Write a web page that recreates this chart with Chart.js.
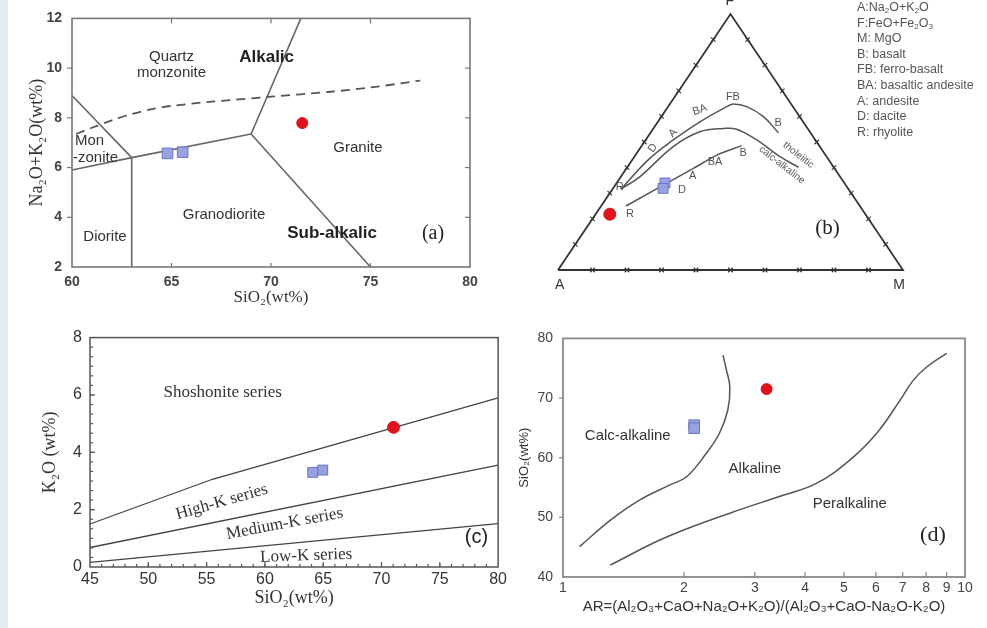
<!DOCTYPE html>
<html>
<head>
<meta charset="utf-8">
<title>Granite geochemistry diagrams</title>
<script src="https://cdn.jsdelivr.net/npm/chart.js@4.4.1/dist/chart.umd.min.js"></script>
<style>
  body { margin: 0; width: 987px; height: 628px; background: #fff; position: relative; overflow: hidden;
         font-family: 'Liberation Sans', Arial, sans-serif; }
  .strip { position: absolute; left: 0; top: 0; width: 8px; height: 628px; background: #e5e9f5; }
  .panel { position: absolute; }
  #afmKey { position: absolute; left: 857px; top: 0; font-size: 12.5px; line-height: 15.6px; color: #555; white-space: nowrap; }
  #afmKey sub { font-size: 8px; vertical-align: -2px; line-height: 0; }
</style>
</head>
<body>
<div class="strip"></div>
<div class="panel" style="left:0;top:0;width:490px;height:310px"><canvas id="tas"></canvas></div>
<div class="panel" style="left:540px;top:0;width:447px;height:300px"><canvas id="afm"></canvas></div>
<div id="afmKey">
  A:Na<sub>2</sub>O+K<sub>2</sub>O<br>
  F:FeO+Fe<sub>2</sub>O<sub>3</sub><br>
  M: MgO<br>
  B: basalt<br>
  FB: ferro-basalt<br>
  BA: basaltic andesite<br>
  A: andesite<br>
  D: dacite<br>
  R: rhyolite
</div>
<div class="panel" style="left:0;top:320px;width:510px;height:308px"><canvas id="k2o"></canvas></div>
<div class="panel" style="left:500px;top:320px;width:487px;height:308px"><canvas id="ar"></canvas></div>

<script>
// (a) total alkali vs silica, plutonic fields
const tasFieldLines = [
  [[60, 8.9], [63, 6.4]],
  [[60, 5.9], [63, 6.4], [69, 7.35]],
  [[63, 6.4], [63, 2]],
  [[69, 7.35], [71.5, 12]],
  [[69, 7.35], [75, 2]]
];
const tasAlkalicDivide = [[60.2, 7.35], [61, 7.6], [62, 7.9], [63, 8.15], [64, 8.35], [65, 8.48],
  [67, 8.65], [70, 8.85], [73, 9.05], [75, 9.22], [77.5, 9.5]];
const tasSamples = [[64.8, 6.57], [65.56, 6.62]];
const tasGranite = [[71.57, 7.79]];
const tasXTicks = [60, 65, 70, 75, 80];
const tasYTicks = [2, 4, 6, 8, 10, 12];

// (b) AFM ternary, points as [A, F, M] in percent
const afmOutline = [[100, 0, 0], [0, 0, 100], [0, 100, 0], [100, 0, 0]];
const afmTholeiiticTrend = [[66.0, 31.6, 2.4], [51.6, 43.6, 4.8], [41.2, 50.8, 8.0], [29.9, 57.9, 12.2],
  [19.2, 63.8, 17.0], [16.8, 64.8, 18.4], [13.4, 63.8, 22.8], [10.5, 59.9, 29.6], [9.3, 53.6, 37.1]];
const afmDivide = [[66.0, 31.6, 2.4], [58.1, 36.4, 5.5], [42.5, 48.2, 9.3], [31.9, 54.0, 14.1],
  [24.4, 55.3, 20.3], [20.7, 55.0, 24.3], [17.0, 50.8, 32.2], [13.5, 44.3, 42.2], [10.2, 40.1, 49.7]];
const afmCalcAlkalineTrend = [[67.8, 25.0, 7.2], [40.9, 39.7, 19.4], [31.5, 44.9, 23.6], [22.5, 48.6, 28.9]];
const afmSamples = [[52.0, 34.0, 14.0], [53.6, 31.9, 14.5]];
const afmGranite = [[74.1, 21.8, 4.1]];
const afmTickPercents = [10, 20, 30, 40, 50, 60, 70, 80, 90];

// (c) K2O vs SiO2 series
const kFieldLines = [
  [[45, 1.5], [55.5, 3.06], [80, 5.9]],
  [[45, 0.68], [80, 3.55]],
  [[45, 0.16], [80, 1.51]]
];
const kSamples = [[64.1, 3.3], [64.96, 3.38]];
const kGranite = [[71.03, 4.87]];
const kXTicks = [45, 50, 55, 60, 65, 70, 75, 80];
const kYTicks = [0, 2, 4, 6, 8];

// (d) alkalinity ratio vs SiO2
const arCalcAlkalineLimit = [[1.10, 45.1], [1.31, 49.5], [1.55, 52.9], [1.84, 55.4], [2.03, 56.8],
  [2.27, 60.7], [2.45, 64.1], [2.57, 68.0], [2.60, 71.9], [2.55, 74.7], [2.50, 77.2]];
const arPeralkalineLimit = [[1.31, 42.0], [1.81, 46.7], [2.65, 50.9], [3.53, 53.7], [4.27, 55.7],
  [5.17, 59.6], [6.03, 64.1], [6.89, 69.6], [7.44, 73.0], [8.03, 75.2], [9.0, 77.5]];
const arSamples = [[2.12, 65.45], [2.12, 64.95]];
const arGranite = [[3.21, 71.5]];
const arXTicks = [1, 2, 3, 4, 5, 6, 7, 8, 9, 10];
const arYTicks = [40, 50, 60, 70, 80];

const SANS = "'Liberation Sans', Arial, sans-serif";
const SERIF = "'Liberation Serif', 'Times New Roman', serif";
Chart.defaults.font.family = SANS;

const pts = arr => arr.map(([x, y]) => ({ x, y }));
// ternary [A, F, M] -> plane with M to the right and F up
const tern = arr => arr.map(([a, f, m]) => ({ x: (m + f / 2) / 100, y: f / 100 }));

const lineSet = (data, o = {}) => ({
  data, showLine: true, pointRadius: 0, borderColor: o.color || '#555', borderWidth: o.width || 1.5,
  borderDash: o.dash || [], tension: o.tension || 0, fill: false, clip: false
});
const squareSet = (data, r) => ({
  data, pointStyle: 'rect', pointRadius: r, backgroundColor: '#98a2e2', borderColor: '#6a74c4', borderWidth: 1, clip: false
});
const dotSet = (data, r) => ({
  data, pointStyle: 'circle', pointRadius: r, backgroundColor: '#e0121c', borderColor: '#e0121c', borderWidth: 1, clip: false
});

// box around the plot plus inward/outward tick marks
const frameTicks = {
  id: 'frameTicks',
  afterDatasetsDraw(chart, args, o) {
    if (!o.color) return;
    const { ctx, chartArea: a, scales } = chart;
    const scaleFor = side => (side === 'left' || side === 'right') ? scales.y : scales.x;
    const mark = (side, v, len) => {
      const p = scaleFor(side).getPixelForValue(v);
      ctx.beginPath();
      if (side === 'bottom') { ctx.moveTo(p, a.bottom); ctx.lineTo(p, a.bottom - len); }
      if (side === 'top') { ctx.moveTo(p, a.top); ctx.lineTo(p, a.top + len); }
      if (side === 'left') { ctx.moveTo(a.left, p); ctx.lineTo(a.left + len, p); }
      if (side === 'right') { ctx.moveTo(a.right, p); ctx.lineTo(a.right - len, p); }
      ctx.stroke();
    };
    ctx.save();
    ctx.strokeStyle = o.color;
    ctx.lineWidth = o.width;
    ctx.strokeRect(a.left, a.top, a.right - a.left, a.bottom - a.top);
    ctx.lineWidth = 1.2;
    Object.entries(o.sides || {}).forEach(([side, len]) => {
      const s = scaleFor(side);
      s.ticks.forEach(t => { if (t.value > s.min && t.value < s.max) mark(side, t.value, len); });
    });
    (o.minor || []).forEach(([side, step, len]) => {
      const s = scaleFor(side);
      for (let v = s.min + step; v < s.max - step / 2; v += step) mark(side, v, len);
    });
    ctx.restore();
  }
};

// free text placed in data units
const notes = {
  id: 'notes',
  afterDraw(chart, args, o) {
    const { ctx, scales: { x, y } } = chart;
    (o.items || []).forEach(n => {
      ctx.save();
      ctx.translate(x.getPixelForValue(n.x), y.getPixelForValue(n.y));
      if (n.rot) ctx.rotate(n.rot * Math.PI / 180);
      ctx.font = n.font || o.font;
      ctx.fillStyle = n.color || o.color || '#333';
      ctx.textAlign = n.align || 'center';
      ctx.textBaseline = 'middle';
      ctx.fillText(n.text, 0, 0);
      ctx.restore();
    });
  }
};

function axis(o) {
  const horizontal = o.pos === 'x';
  return {
    type: o.type || 'linear',
    min: o.min, max: o.max,
    afterBuildTicks: s => { s.ticks = o.ticks.map(v => ({ value: v })); },
    afterFit: s => { if (horizontal) s.height = o.size; else s.width = o.size; },
    grid: { display: false, drawTicks: false },
    border: { display: false },
    ticks: {
      autoSkip: false, maxRotation: 0, padding: o.pad, color: o.color || '#333',
      font: o.font, callback: v => String(v)
    },
    title: {
      display: true, text: o.title, color: '#333', font: o.titleFont,
      padding: horizontal ? { top: 0, bottom: o.titlePad } : { top: o.titlePad, bottom: 0 }
    }
  };
}

function baseOptions(padding, scales, frame, items, noteFont) {
  return {
    responsive: true, maintainAspectRatio: false, animation: false,
    layout: { padding },
    scales,
    plugins: {
      legend: { display: false }, tooltip: { enabled: false },
      frameTicks: frame,
      notes: { font: noteFont, color: '#333', items }
    }
  };
}

// (a)
new Chart(document.getElementById('tas'), {
  type: 'scatter',
  data: {
    datasets: [
      dotSet(pts(tasGranite), 5.5),
      squareSet(pts(tasSamples), 7.5),
      lineSet(pts(tasAlkalicDivide), { dash: [9, 6], width: 1.8, color: '#555', tension: 0.3 }),
      ...tasFieldLines.map(l => lineSet(pts(l), { color: '#666', width: 1.6 }))
    ]
  },
  options: baseOptions({ top: 16, right: 20, left: 0, bottom: 0 }, {
    x: axis({ pos: 'x', min: 60, max: 80, ticks: tasXTicks, size: 43, pad: 7,
      font: { size: 14, weight: 'bold' }, color: '#444',
      title: 'SiO₂(wt%)', titleFont: { family: SERIF, size: 17 }, titlePad: 2 }),
    y: axis({ pos: 'y', min: 2, max: 12, ticks: tasYTicks, size: 72, pad: 10,
      font: { size: 14, weight: 'bold' }, color: '#444',
      title: 'Na₂O+K₂O(wt%)', titleFont: { family: SERIF, size: 18 }, titlePad: 26 })
  }, { color: '#777', width: 1.6, sides: { left: -5, right: 5, top: 5, bottom: 4 } }, [
    { x: 65.0, y: 10.45, text: 'Quartz' },
    { x: 65.0, y: 9.82, text: 'monzonite' },
    { x: 69.78, y: 10.45, text: 'Alkalic', font: `bold 17px ${SANS}`, color: '#222' },
    { x: 60.15, y: 7.06, text: 'Mon', align: 'left' },
    { x: 60.05, y: 6.39, text: '-zonite', align: 'left' },
    { x: 74.37, y: 6.78, text: 'Granite' },
    { x: 67.64, y: 4.11, text: 'Granodiorite' },
    { x: 61.66, y: 3.2, text: 'Diorite' },
    { x: 73.07, y: 3.35, text: 'Sub-alkalic', font: `bold 17px ${SANS}`, color: '#222' },
    { x: 78.14, y: 3.35, text: '(a)', font: `20px ${SERIF}`, color: '#222' }
  ], `15px ${SANS}`),
  plugins: [frameTicks, notes]
});

// (b)
const afmEdgeTicks = afmTickPercents.flatMap(p => [
  [100 - p, 0, p], [100 - p, p, 0], [0, p, 100 - p]
]);
new Chart(document.getElementById('afm'), {
  type: 'scatter',
  data: {
    datasets: [
      dotSet(tern(afmGranite), 6),
      squareSet(tern(afmSamples), 7),
      { data: tern(afmEdgeTicks), pointStyle: 'crossRot', pointRadius: 3.2, borderColor: '#333', borderWidth: 1.1, clip: false },
      lineSet(tern(afmOutline), { color: '#333', width: 1.8 }),
      lineSet(tern(afmTholeiiticTrend), { color: '#555', width: 1.5, tension: 0.4 }),
      lineSet(tern(afmDivide), { color: '#555', width: 1.5, tension: 0.4 }),
      lineSet(tern(afmCalcAlkalineTrend), { color: '#555', width: 1.5, tension: 0.3 })
    ]
  },
  options: {
    responsive: true, maintainAspectRatio: false, animation: false,
    layout: { padding: { left: 18, right: 84, top: 14, bottom: 30 } },
    scales: {
      x: { type: 'linear', min: 0, max: 1, display: false },
      y: { type: 'linear', min: 0, max: 1, display: false }
    },
    plugins: {
      legend: { display: false }, tooltip: { enabled: false },
      notes: {
        font: `11px ${SANS}`, color: '#555',
        items: [
          { x: 0.498, y: 1.05, text: 'F', font: `14px ${SANS}`, color: '#333' },
          { x: 0.005, y: -0.059, text: 'A', font: `14px ${SANS}`, color: '#333' },
          { x: 0.989, y: -0.059, text: 'M', font: `14px ${SANS}`, color: '#333' },
          { x: 0.179, y: 0.324, text: 'R' },
          { x: 0.275, y: 0.477, text: 'D', rot: -55 },
          { x: 0.333, y: 0.535, text: 'A', rot: -45 },
          { x: 0.411, y: 0.625, text: 'BA', rot: -20 },
          { x: 0.507, y: 0.676, text: 'FB' },
          { x: 0.638, y: 0.574, text: 'B' },
          { x: 0.197, y: 0.219, text: 'R', align: 'left' },
          { x: 0.348, y: 0.3125, text: 'D', align: 'left' },
          { x: 0.390, y: 0.367, text: 'A' },
          { x: 0.455, y: 0.423, text: 'BA' },
          { x: 0.537, y: 0.458, text: 'B' },
          { x: 0.697, y: 0.449, text: 'tholeiitic', rot: 38, font: `10px ${SANS}` },
          { x: 0.649, y: 0.41, text: 'calc-alkaline', rot: 38, font: `10px ${SANS}` },
          { x: 0.781, y: 0.164, text: '(b)', font: `21px ${SERIF}`, color: '#222' }
        ]
      }
    }
  },
  plugins: [notes]
});

// (c)
new Chart(document.getElementById('k2o'), {
  type: 'scatter',
  data: {
    datasets: [
      dotSet(pts(kGranite), 6),
      squareSet(pts(kSamples), 7),
      ...kFieldLines.map(l => lineSet(pts(l), { color: '#444', width: 1.3 }))
    ]
  },
  options: baseOptions({ top: 17, right: 11, left: 0, bottom: 0 }, {
    x: axis({ pos: 'x', min: 45, max: 80, ticks: kXTicks, size: 61, pad: 3,
      font: { size: 16 }, color: '#333',
      title: 'SiO₂(wt%)', titleFont: { family: SERIF, size: 18 }, titlePad: 19 }),
    y: axis({ pos: 'y', min: 0, max: 8, ticks: kYTicks, size: 90, pad: 8,
      font: { size: 16 }, color: '#333',
      title: 'K₂O (wt%)', titleFont: { family: SERIF, size: 18 }, titlePad: 39 })
  }, { color: '#555', width: 1.5, sides: { left: 5, bottom: 5 }, minor: [['left', 1 / 3, 3], ['bottom', 1, 3]] }, [
    { x: 56.38, y: 6.07, text: 'Shoshonite series' },
    { x: 56.3, y: 2.27, text: 'High-K series', rot: -16 },
    { x: 61.69, y: 1.51, text: 'Medium-K series', rot: -10.5 },
    { x: 63.54, y: 0.39, text: 'Low-K series', rot: -2 },
    { x: 78.14, y: 1.04, text: '(c)', font: `20px ${SANS}`, color: '#222' }
  ], `17px ${SERIF}`),
  plugins: [frameTicks, notes]
});

// (d)
new Chart(document.getElementById('ar'), {
  type: 'scatter',
  data: {
    datasets: [
      dotSet(pts(arGranite), 5.5),
      squareSet(pts(arSamples), 7.5),
      lineSet(pts(arCalcAlkalineLimit), { color: '#555', width: 1.5, tension: 0.4 }),
      lineSet(pts(arPeralkalineLimit), { color: '#555', width: 1.5, tension: 0.4 })
    ]
  },
  options: baseOptions({ top: 18, right: 22, left: 0, bottom: 0 }, {
    x: axis({ pos: 'x', type: 'logarithmic', min: 1, max: 10, ticks: arXTicks, size: 51, pad: 3,
      font: { size: 14 }, color: '#444',
      title: 'AR=(Al₂O₃+CaO+Na₂O+K₂O)/(Al₂O₃+CaO-Na₂O-K₂O)', titleFont: { size: 15 }, titlePad: 12 }),
    y: axis({ pos: 'y', min: 40, max: 80, ticks: arYTicks, size: 63, pad: 10,
      font: { size: 14 }, color: '#444',
      title: 'SiO₂(wt%)', titleFont: { size: 13 }, titlePad: 17 })
  }, { color: '#888', width: 1.8, sides: { left: -4, bottom: 5 } }, [
    { x: 1.449, y: 63.6, text: 'Calc-alkaline' },
    { x: 3.0, y: 58.2, text: 'Alkaline' },
    { x: 5.17, y: 52.2, text: 'Peralkaline' },
    { x: 8.32, y: 47.0, text: '(d)', font: `22px ${SERIF}`, color: '#222' }
  ], `15px ${SANS}`),
  plugins: [frameTicks, notes]
});
</script>
</body>
</html>
